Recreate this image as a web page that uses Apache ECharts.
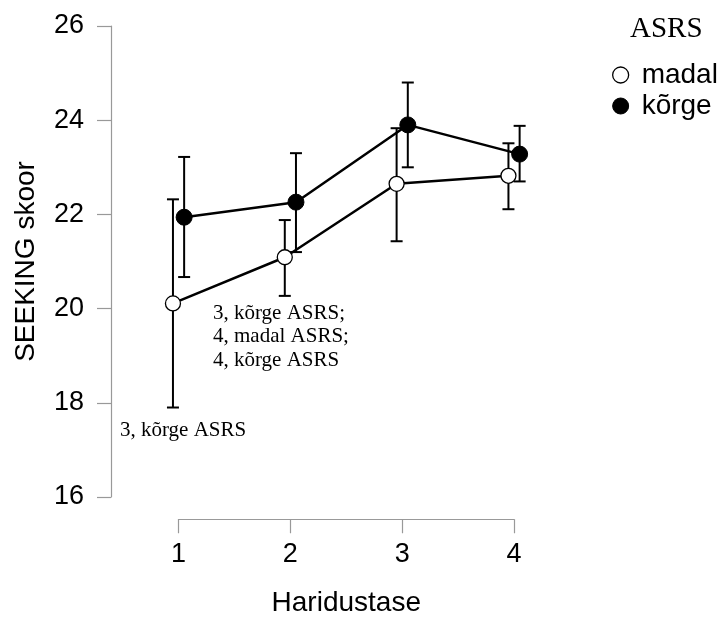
<!DOCTYPE html>
<html>
<head>
<meta charset="utf-8">
<script src="https://cdn.jsdelivr.net/npm/echarts@6/dist/echarts.min.js"></script>
<style>
  html, body {margin: 0; padding: 0; background: #fff;}
  #chart {width: 719px; height: 617px;}
</style>
</head>
<body>
<div id="chart"></div>
<script>
// haridustase (education level) categories
const levels = [1, 2, 3, 4];
const yTicks = [16, 18, 20, 22, 24, 26];

// madal ASRS
const madalMean = [20.11, 21.09, 22.65, 22.82];
const madalLow = [17.90, 20.27, 21.43, 22.11];
const madalHigh = [22.32, 21.88, 23.83, 23.51];

// kõrge ASRS
const korgeMean = [21.94, 22.26, 23.90, 23.28];
const korgeLow = [20.67, 21.20, 23.00, 22.70];
const korgeHigh = [23.22, 23.30, 24.80, 23.88];

const dodge = 0.05; // horizontal offset so groups don't overlap

const chart = echarts.init(document.getElementById('chart'));

function pts(mean, shift) {
    return levels.map((x, i) => [x + shift, mean[i]]);
}
function bars(low, high, shift) {
    return levels.map((x, i) => [x + shift, low[i], high[i]]);
}

function renderErr(params, api) {
    const x = api.value(0);
    const lo = api.coord([x, api.value(1)]);
    const hi = api.coord([x, api.value(2)]);
    const w = 6;
    const st = {stroke: '#000', lineWidth: 2};
    return {
        type: 'group',
        children: [
            {type: 'line', shape: {x1: lo[0], y1: lo[1], x2: hi[0], y2: hi[1]}, style: st},
            {type: 'line', shape: {x1: lo[0] - w, y1: lo[1], x2: lo[0] + w, y2: lo[1]}, style: st},
            {type: 'line', shape: {x1: hi[0] - w, y1: hi[1], x2: hi[0] + w, y2: hi[1]}, style: st}
        ]
    };
}

const axisGray = '#999';
const sans = 'Liberation Sans, Arial, sans-serif';
const serif = 'Liberation Serif, Times New Roman, serif';

chart.setOption({
    animation: false,
    backgroundColor: '#fff',
    grid: [
        // plot area
        {left: 111, top: 26, width: 449, height: 471},
        // detached x axis
        {left: 178.5, top: 519, width: 335.5, height: 1}
    ],
    xAxis: [
        {gridIndex: 0, type: 'value', min: 0.396, max: 4.411, show: false},
        {
            gridIndex: 1, type: 'value', min: 1, max: 4, interval: 1,
            name: 'Haridustase', nameLocation: 'middle', nameGap: 70,
            nameTextStyle: {fontFamily: sans, fontSize: 28, color: '#000'},
            axisLine: {show: true, lineStyle: {color: axisGray, width: 1.2}},
            axisTick: {show: true, length: 14, lineStyle: {color: axisGray, width: 1.2}},
            axisLabel: {fontFamily: sans, fontSize: 27, color: '#000', margin: 22},
            splitLine: {show: false}
        }
    ],
    yAxis: [
        {
            gridIndex: 0, type: 'value', min: yTicks[0], max: yTicks[yTicks.length - 1], interval: 2,
            name: 'SEEKING skoor', nameLocation: 'middle', nameGap: 71, nameRotate: 90,
            nameTextStyle: {fontFamily: sans, fontSize: 28, color: '#000'},
            axisLine: {show: true, lineStyle: {color: axisGray, width: 1.2}},
            axisTick: {show: true, length: 14, lineStyle: {color: axisGray, width: 1.2}},
            axisLabel: {fontFamily: sans, fontSize: 27, color: '#000', margin: 27},
            splitLine: {show: false}
        },
        {gridIndex: 1, type: 'value', show: false}
    ],
    legend: {
        orient: 'vertical',
        left: 607, top: 56,
        itemWidth: 16, itemHeight: 16, itemGap: 3,
        textStyle: {fontFamily: sans, fontSize: 28, color: '#000', padding: [0, 0, 0, 8]},
        data: [
            {name: 'madal', icon: 'circle', itemStyle: {color: '#fff', borderColor: '#000', borderWidth: 1.3}},
            {name: 'kõrge', icon: 'circle', itemStyle: {color: '#000', borderColor: '#000', borderWidth: 1}}
        ]
    },
    graphic: [
        {type: 'text', left: 630, top: 15,
         style: {text: 'ASRS', font: '29px ' + serif, fill: '#000'}},
        {type: 'text', x: 213, y: 336.7,
         style: {text: '3, kõrge ASRS;\n4, madal ASRS;\n4, kõrge ASRS', font: '21px ' + serif,
                 lineHeight: 23.5, fill: '#000', verticalAlign: 'middle'}},
        {type: 'text', x: 120, y: 430,
         style: {text: '3, kõrge ASRS', font: '21px ' + serif, fill: '#000', verticalAlign: 'middle'}}
    ],
    series: [
        {name: 'madal-err', type: 'custom', renderItem: renderErr, data: bars(madalLow, madalHigh, -dodge), z: 1, silent: true},
        {name: 'kõrge-err', type: 'custom', renderItem: renderErr, data: bars(korgeLow, korgeHigh, dodge), z: 1, silent: true},
        {
            name: 'madal', type: 'line', data: pts(madalMean, -dodge), z: 3,
            symbol: 'circle', symbolSize: 15,
            itemStyle: {color: '#fff', borderColor: '#000', borderWidth: 1.3},
            lineStyle: {color: '#000', width: 2.5}
        },
        {
            name: 'kõrge', type: 'line', data: pts(korgeMean, dodge), z: 3,
            symbol: 'circle', symbolSize: 16,
            itemStyle: {color: '#000', borderColor: '#000', borderWidth: 1},
            lineStyle: {color: '#000', width: 2.5}
        }
    ]
});
</script>
</body>
</html>
